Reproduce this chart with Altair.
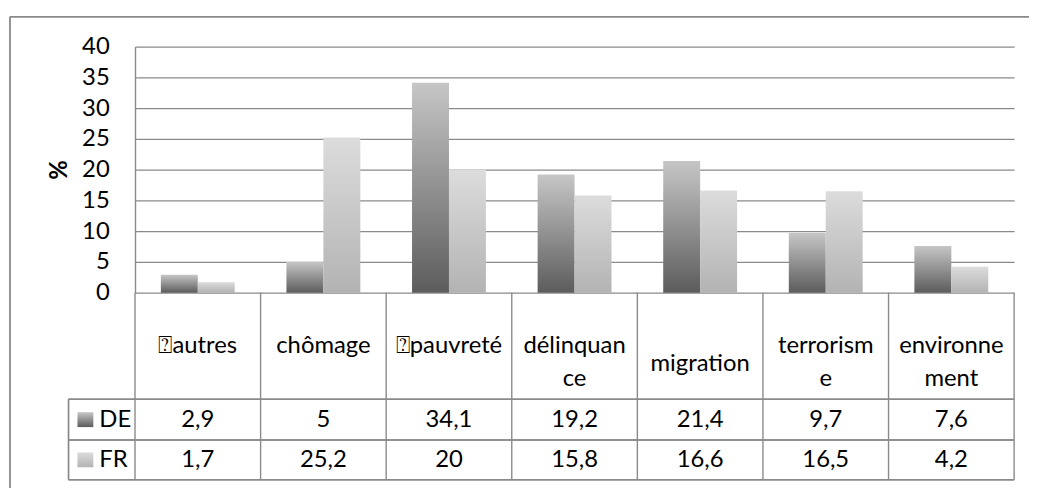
import altair as alt
import pandas as pd

categories = ["\u2370autres", "chômage", "\u2370pauvreté", "délinquance",
              "migration", "terrorisme", "environnement"]
header_labels = ["\u2370autres", "chômage", "\u2370pauvreté", "délinquan\nce",
                 "migration", "terrorism\ne", "environne\nment"]
series = ["DE", "FR"]
de_values = [2.9, 5, 34.1, 19.2, 21.4, 9.7, 7.6]
fr_values = [1.7, 25.2, 20, 15.8, 16.6, 16.5, 4.2]
y_ticks = [0, 5, 10, 15, 20, 25, 30, 35, 40]

rows = []
for s, vals in zip(series, [de_values, fr_values]):
    for c, v in zip(categories, vals):
        rows.append({"cat": c, "series": s, "value": v,
                     "label": f"{v:g}".replace(".", ",")})
df = pd.DataFrame(rows)
cat_df = pd.DataFrame({"cat": categories, "header": header_labels})
leg_df = pd.DataFrame({"series": series})

W, H = 886, 248
FONT = "Lato"
FS = 24
LINE = "#8a8a8a"
LW = 1.4

grad_de = alt.LinearGradient(gradient="linear", x1=0, x2=0, y1=0, y2=1,
                             stops=[alt.GradientStop(color="#c6c6c6", offset=0),
                                    alt.GradientStop(color="#5c5c5c", offset=1)])
grad_fr = alt.LinearGradient(gradient="linear", x1=0, x2=0, y1=0, y2=1,
                             stops=[alt.GradientStop(color="#dcdcdc", offset=0),
                                    alt.GradientStop(color="#b3b3b3", offset=1)])
grads = {"DE": grad_de, "FR": grad_fr}

xscale = alt.Scale(domain=categories, paddingInner=0, paddingOuter=0)
xoff = alt.Scale(domain=series, paddingInner=0, paddingOuter=0.7)
yscale = alt.Scale(domain=[0, 40], nice=False)
yaxis = alt.Axis(values=y_ticks, title="%", titleFontWeight="bold", titleFont=FONT,
                 titleFontSize=FS, titleColor="black", titleAngle=270,
                 titleX=-76, titleY=H / 2, titleAlign="center", titleBaseline="middle",
                 labelFont=FONT, labelFontSize=FS, labelColor="black", labelPadding=26,
                 tickSize=0, domain=True, domainColor=LINE, domainWidth=LW,
                 grid=True, gridColor=LINE, gridWidth=LW)
X = alt.X("cat:N", scale=xscale, axis=None, sort=categories)

layers = []
for s in series:
    layers.append(
        alt.Chart(df).transform_filter(alt.datum.series == s)
        .mark_bar(color=grads[s])
        .encode(x=X, xOffset=alt.XOffset("series:N", scale=xoff),
                y=alt.Y("value:Q", scale=yscale, axis=yaxis))
    )

# table vertical lines at category boundaries
layers.append(
    alt.Chart(cat_df).mark_rule(color=LINE, strokeWidth=LW).encode(
        x=alt.X("cat:N", scale=xscale, axis=None, sort=categories, bandPosition=0),
        y=alt.value(H), y2=alt.value(436.5))
)
layers.append(
    alt.Chart(cat_df).transform_filter(alt.datum.cat == categories[-1])
    .mark_rule(color=LINE, strokeWidth=LW).encode(
        x=alt.X("cat:N", scale=xscale, axis=None, sort=categories, bandPosition=1),
        y=alt.value(H), y2=alt.value(436.5))
)
# table horizontal lines
for yy in [355.5, 396.5, 436.5]:
    layers.append(
        alt.Chart(leg_df).mark_rule(color=LINE, strokeWidth=LW).encode(
            x=alt.value(-67), x2=alt.value(W), y=alt.value(yy))
    )
layers.append(
    alt.Chart(leg_df).mark_rule(color=LINE, strokeWidth=LW).encode(
        x=alt.value(-67), y=alt.value(355.5), y2=alt.value(436.5))
)
# outer frame
layers.append(
    alt.Chart(leg_df).mark_rule(color=LINE, strokeWidth=LW).encode(
        x=alt.value(-126), y=alt.value(-30), y2=alt.value(460))
)
layers.append(
    alt.Chart(leg_df).mark_rule(color=LINE, strokeWidth=LW).encode(
        x=alt.value(-126), x2=alt.value(920), y=alt.value(-30))
)

# header labels (first line at the same height; single centred label for migration)
layers.append(
    alt.Chart(cat_df).transform_filter(alt.datum.cat != "migration")
    .mark_text(font=FONT, fontSize=FS, color="black", baseline="middle",
               align="center", lineBreak="\n", lineHeight=33).encode(
        x=X, y=alt.value(302), text="header:N")
)
layers.append(
    alt.Chart(cat_df).transform_filter(alt.datum.cat == "migration")
    .mark_text(font=FONT, fontSize=FS, color="black", baseline="middle",
               align="center").encode(
        x=X, y=alt.value(320), text="header:N")
)
# values rows and legend cells
row_y = {"DE": 376.5, "FR": 417}
for s in series:
    layers.append(
        alt.Chart(df).transform_filter(alt.datum.series == s)
        .mark_text(font=FONT, fontSize=FS, color="black", baseline="middle", align="center")
        .encode(x=X, y=alt.value(row_y[s]), text="label:N")
    )
    layers.append(
        alt.Chart(leg_df).transform_filter(alt.datum.series == s)
        .mark_rect(color=grads[s])
        .encode(x=alt.value(-58), x2=alt.value(-42),
                y=alt.value(row_y[s] - 8), y2=alt.value(row_y[s] + 7))
    )
    layers.append(
        alt.Chart(leg_df).transform_filter(alt.datum.series == s)
        .mark_text(font=FONT, fontSize=FS, color="black", baseline="middle", align="left")
        .encode(x=alt.value(-36), y=alt.value(row_y[s]), text="series:N")
    )

chart = alt.layer(*layers).properties(
    width=W, height=H,
    autosize=alt.AutoSizeParams(type="none"),
    padding={"left": 128, "top": 37, "right": 15, "bottom": 195},
    background="white",
).configure_view(stroke=None)

chart.save("out.html", embed_options={"renderer": "svg", "actions": False})
